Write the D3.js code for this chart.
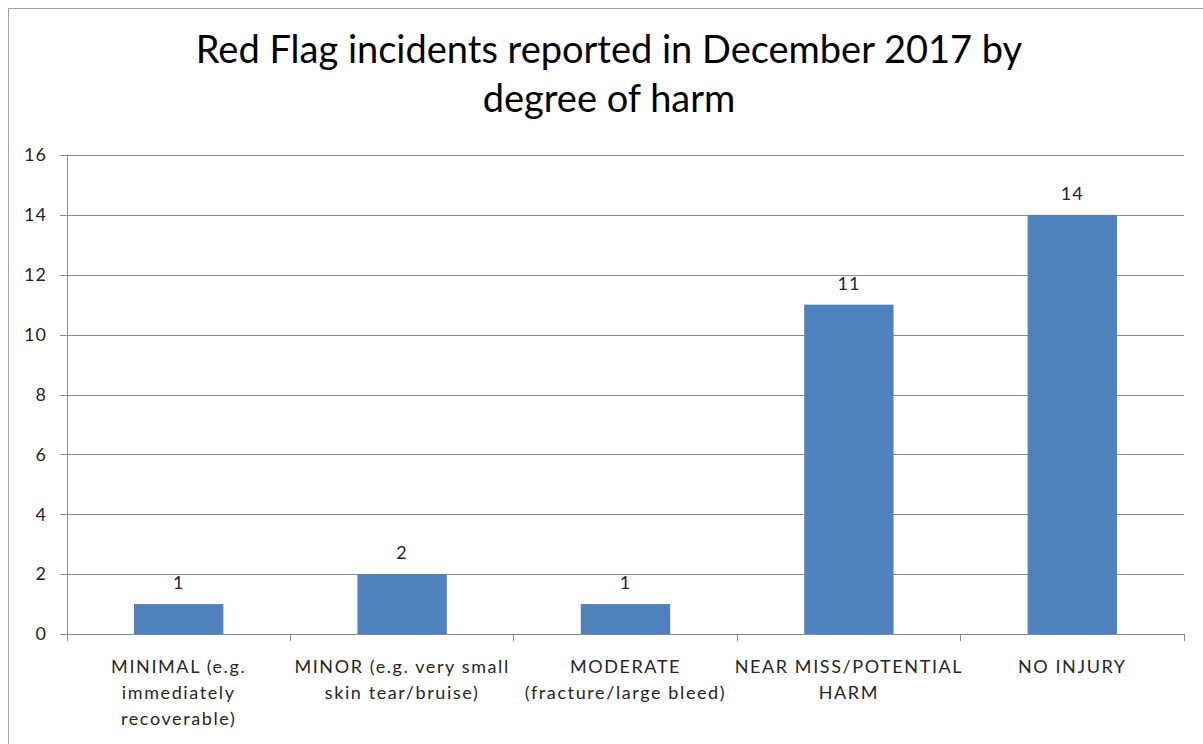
<!DOCTYPE html>
<html>
<head>
<meta charset="utf-8">
<title>Red Flag incidents</title>
<script src="https://cdn.jsdelivr.net/npm/d3@7"></script>
<style>
  body { margin: 0; background: #fff; }
  text { font-family: Lato, "Open Sans", sans-serif; }
</style>
</head>
<body>
<script>
// chart values
var categories = [
  "MINIMAL (e.g. immediately recoverable)",
  "MINOR (e.g. very small skin tear/bruise)",
  "MODERATE (fracture/large bleed)",
  "NEAR MISS/POTENTIAL HARM",
  "NO INJURY"
];
var labelLines = [
  ["MINIMAL (e.g.", "immediately", "recoverable)"],
  ["MINOR (e.g. very small", "skin tear/bruise)"],
  ["MODERATE", "(fracture/large bleed)"],
  ["NEAR MISS/POTENTIAL", "HARM"],
  ["NO INJURY"]
];
var counts = [1, 2, 1, 11, 14];
var yTicks = [0, 2, 4, 6, 8, 10, 12, 14, 16];
var titleLines = ["Red Flag incidents reported in December 2017 by", "degree of harm"];

var W = 1203, H = 744;
var plot = {left: 67, right: 1184, top: 155, bottom: 634};

var svg = d3.select("body").append("svg")
    .attr("width", W)
    .attr("height", H);

// outer chart border (runs off the right and bottom edge)
svg.append("rect")
    .attr("x", 8.5).attr("y", 8.5)
    .attr("width", W + 50).attr("height", H + 50)
    .attr("fill", "#fff")
    .attr("stroke", "#a0a0a0")
    .attr("stroke-width", 1);

var x = d3.scaleBand()
    .domain(categories)
    .range([plot.left, plot.right])
    .padding(0);

var y = d3.scaleLinear()
    .domain([0, 16])
    .range([plot.bottom, plot.top]);

// title
svg.append("text")
    .attr("text-anchor", "middle")
    .attr("font-size", 38)
    .attr("fill", "#000")
  .selectAll("tspan")
  .data(titleLines)
  .enter().append("tspan")
    .attr("x", 609)
    .attr("y", (d, i) => 63 + i * 49)
    .text(d => d);

// gridlines + y axis
var yAxis = d3.axisLeft(y)
    .tickValues(yTicks)
    .tickSize(-(plot.right - plot.left) - 7)
    .tickSizeOuter(0)
    .tickPadding(20);

var gy = svg.append("g")
    .attr("transform", "translate(" + plot.left + ",0)")
    .call(yAxis);
gy.select(".domain").remove();
gy.selectAll(".tick line")
    .attr("x1", -7)
    .attr("x2", plot.right - plot.left)
    .attr("stroke", "#8a8a8a")
    .attr("shape-rendering", "crispEdges");
gy.selectAll(".tick text")
    .attr("font-size", 18)
    .attr("letter-spacing", 1)
    .attr("fill", "#262626");

// y axis line
svg.append("line")
    .attr("x1", plot.left).attr("x2", plot.left)
    .attr("y1", plot.top).attr("y2", plot.bottom + 7)
    .attr("stroke", "#8a8a8a")
    .attr("shape-rendering", "crispEdges");

// bars
var barW = x.bandwidth() * 0.4;
svg.selectAll(".bar")
    .data(counts)
  .enter().append("rect")
    .attr("class", "bar")
    .attr("x", (d, i) => x(categories[i]) + (x.bandwidth() - barW) / 2)
    .attr("y", d => y(d))
    .attr("width", barW)
    .attr("height", d => y(0) - y(d))
    .attr("fill", "#4f81bd");

// value labels
svg.selectAll(".val")
    .data(counts)
  .enter().append("text")
    .attr("class", "val")
    .attr("x", (d, i) => x(categories[i]) + x.bandwidth() / 2)
    .attr("y", d => y(d) - 15)
    .attr("text-anchor", "middle")
    .attr("font-size", 18)
    .attr("letter-spacing", 1)
    .attr("fill", "#262626")
    .text(d => d);

// x axis line and category boundary ticks
svg.append("line")
    .attr("x1", plot.left - 7).attr("x2", plot.right)
    .attr("y1", y(0)).attr("y2", y(0))
    .attr("stroke", "#8a8a8a")
    .attr("shape-rendering", "crispEdges");

var bounds = categories.map(c => x(c)).concat([plot.right]);
svg.selectAll(".xtick")
    .data(bounds)
  .enter().append("line")
    .attr("class", "xtick")
    .attr("x1", d => d).attr("x2", d => d)
    .attr("y1", y(0)).attr("y2", y(0) + 7)
    .attr("stroke", "#8a8a8a")
    .attr("shape-rendering", "crispEdges");

// category labels
var cl = svg.selectAll(".cat")
    .data(categories)
  .enter().append("text")
    .attr("class", "cat")
    .attr("text-anchor", "middle")
    .attr("font-size", 18)
    .attr("letter-spacing", 1.6)
    .attr("fill", "#262626");
cl.selectAll("tspan")
    .data((d, i) => labelLines[i].map(t => ({t: t, c: d})))
  .enter().append("tspan")
    .attr("x", d => x(d.c) + x.bandwidth() / 2)
    .attr("y", (d, j) => y(0) + 39 + j * 26)
    .text(d => d.t);
</script>
</body>
</html>
